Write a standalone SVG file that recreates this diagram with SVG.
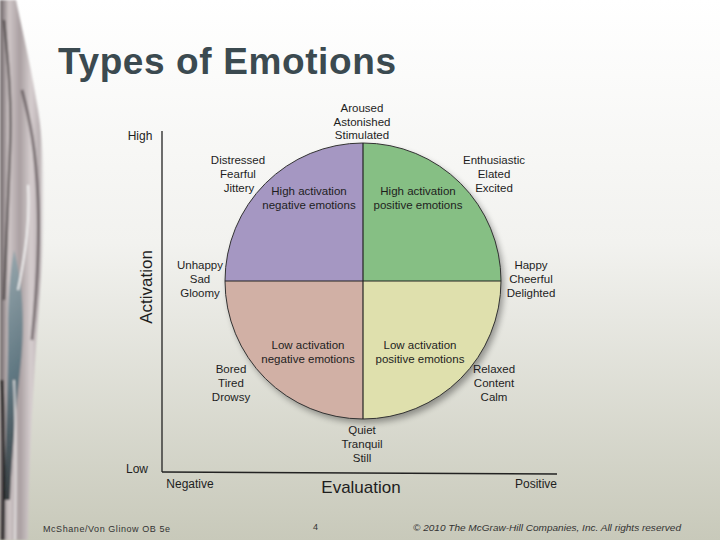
<svg xmlns="http://www.w3.org/2000/svg" width="720" height="540" viewBox="0 0 720 540">
<defs>
<linearGradient id="bg" x1="0" y1="0" x2="0" y2="1">
<stop offset="0" stop-color="#ffffff"/>
<stop offset="0.45" stop-color="#f2f2ef"/>
<stop offset="1" stop-color="#c8c9ba"/>
</linearGradient>
<linearGradient id="streak" x1="0" y1="0" x2="1" y2="0">
<stop offset="0" stop-color="#6b6264"/>
<stop offset="0.2" stop-color="#cfc6c7"/>
<stop offset="0.45" stop-color="#a99fa1"/>
<stop offset="0.7" stop-color="#d6cecf"/>
<stop offset="0.9" stop-color="#b9b0b2"/>
<stop offset="1" stop-color="#e9e6e6" stop-opacity="0.3"/>
</linearGradient>
<linearGradient id="streak2" x1="0" y1="0" x2="0" y2="1">
<stop offset="0" stop-color="#8fa3aa"/>
<stop offset="0.5" stop-color="#4f6c78"/>
<stop offset="1" stop-color="#20282b"/>
</linearGradient>
<filter id="sh" x="-20%" y="-20%" width="140%" height="140%">
<feGaussianBlur stdDeviation="3"/>
</filter>
<filter id="soft"><feGaussianBlur stdDeviation="0.8"/></filter>
<clipPath id="cc"><circle cx="363" cy="281" r="138"/></clipPath>
<style>
.t{font-family:"Liberation Sans",Arial,Helvetica,sans-serif;font-size:11.5px;fill:#1e1e1e;text-anchor:middle}
.ax{font-family:"Liberation Sans",Arial,Helvetica,sans-serif;fill:#1e1e1e;text-anchor:middle}
.ft{font-family:"Liberation Sans",Arial,sans-serif;font-size:9px;fill:#333}
</style>
</defs>
<rect width="720" height="540" fill="url(#bg)"/>
<g id="decoration" filter="url(#soft)">
<path d="M0 0 L16 0 C22 30 30 60 38 110 C46 160 46 220 40 290 C36 350 30 420 28 540 L0 540 Z" fill="url(#streak)"/>
<path d="M22 90 C30 120 36 150 38 200 C40 250 36 300 32 340" stroke="#4a3f42" stroke-width="3" fill="none" opacity="0.6"/>
<path d="M14 250 C22 280 26 320 20 370 C16 410 12 450 10 500 L4 500 C6 440 8 380 8 330 C8 300 10 270 14 250 Z" fill="url(#streak2)" opacity="0.85"/>
<path d="M28 185 C30 220 26 250 18 290" stroke="#f6f6f6" stroke-width="2" fill="none" opacity="0.9"/>
<path d="M4 20 C8 60 12 100 10 150 C8 200 6 260 4 300" stroke="#2a2424" stroke-width="2.5" fill="none" opacity="0.6"/>
<path d="M2 380 C4 420 4 470 3 540" stroke="#111" stroke-width="3" fill="none" opacity="0.8"/>
<path d="M14 380 C16 420 16 470 15 540" stroke="#e8e6e6" stroke-width="2" fill="none" opacity="0.8"/>
</g>
<text x="58" y="74" font-family="Liberation Sans,Arial,sans-serif" font-size="37" font-weight="bold" fill="#3b4a50" textLength="338" lengthAdjust="spacing">Types of Emotions</text>
<g id="circle">
<circle cx="366" cy="285" r="138" fill="#000" opacity="0.35" filter="url(#sh)"/>
<g clip-path="url(#cc)">
<rect x="225" y="143" width="138" height="138" fill="#a597c2"/>
<rect x="363" y="143" width="138" height="138" fill="#86bf84"/>
<rect x="225" y="281" width="138" height="138" fill="#d1b0a5"/>
<rect x="363" y="281" width="138" height="138" fill="#dfe0ad"/>
</g>
<circle cx="363" cy="281" r="138" fill="none" stroke="#333" stroke-width="1"/>
</g>
<g id="connectors" stroke="#222" fill="none">
<line x1="363" y1="143" x2="363" y2="419" stroke-width="1.2"/>
<line x1="225" y1="281" x2="501" y2="281" stroke-width="1.2"/>
<line x1="162" y1="131" x2="162" y2="472" stroke-width="1.3"/>
<line x1="162" y1="472" x2="557" y2="474" stroke-width="1.6"/>
</g>
<g id="axis-labels">
<text class="ax" x="140" y="140" font-size="12">High</text>
<text class="ax" x="137" y="473" font-size="12">Low</text>
<text class="ax" x="190" y="488" font-size="12">Negative</text>
<text class="ax" x="536" y="488" font-size="12">Positive</text>
<text class="ax" x="361" y="493" font-size="17">Evaluation</text>
<text class="ax" transform="translate(152 287) rotate(-90)" font-size="17">Activation</text>
</g>
<g id="node-top"><text class="t" x="362" y="112">Aroused</text><text class="t" x="362" y="126">Astonished</text><text class="t" x="362" y="139">Stimulated</text></g>
<g id="node-tl"><text class="t" x="238" y="164">Distressed</text><text class="t" x="238" y="178">Fearful</text><text class="t" x="239" y="192">Jittery</text></g>
<g id="node-tr"><text class="t" x="494" y="164">Enthusiastic</text><text class="t" x="494" y="178">Elated</text><text class="t" x="494" y="192">Excited</text></g>
<g id="node-l"><text class="t" x="200" y="269">Unhappy</text><text class="t" x="200" y="283">Sad</text><text class="t" x="200" y="297">Gloomy</text></g>
<g id="node-r"><text class="t" x="531" y="269">Happy</text><text class="t" x="531" y="283">Cheerful</text><text class="t" x="531" y="297">Delighted</text></g>
<g id="node-bl"><text class="t" x="231" y="373">Bored</text><text class="t" x="231" y="387">Tired</text><text class="t" x="231" y="401">Drowsy</text></g>
<g id="node-br"><text class="t" x="494" y="373">Relaxed</text><text class="t" x="494" y="387">Content</text><text class="t" x="494" y="401">Calm</text></g>
<g id="node-bottom"><text class="t" x="362" y="434">Quiet</text><text class="t" x="362" y="448">Tranquil</text><text class="t" x="362" y="462">Still</text></g>
<g id="quad-hn"><text class="t" x="309" y="195">High activation</text><text class="t" x="309" y="209">negative emotions</text></g>
<g id="quad-hp"><text class="t" x="418" y="195">High activation</text><text class="t" x="418" y="209">positive emotions</text></g>
<g id="quad-ln"><text class="t" x="308" y="349">Low activation</text><text class="t" x="308" y="363">negative emotions</text></g>
<g id="quad-lp"><text class="t" x="420" y="349">Low activation</text><text class="t" x="420" y="363">positive emotions</text></g>
<g id="footer">
<text class="ft" x="43" y="532" textLength="127" lengthAdjust="spacing">McShane/Von Glinow OB 5e</text>
<text class="ft" x="313" y="530" font-size="10">4</text>
<text class="ft" x="413" y="531" font-size="9.6" font-style="italic" textLength="268" lengthAdjust="spacingAndGlyphs">© 2010 The McGraw-Hill Companies, Inc. All rights reserved</text>
</g>
</svg>
